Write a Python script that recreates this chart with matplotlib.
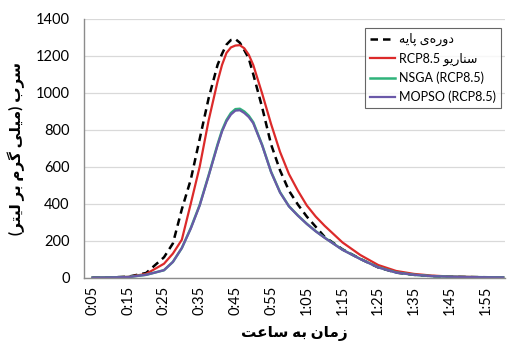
import matplotlib
matplotlib.use("Agg")
import matplotlib.pyplot as plt

# حروف فارسی: (تنها، پایانی، آغازی، میانی)
FORMS = {
    "ا": ("\uFE8D", "\uFE8E", None, None),
    "ب": ("\uFE8F", "\uFE90", "\uFE91", "\uFE92"),
    "ت": ("\uFE95", "\uFE96", "\uFE97", "\uFE98"),
    "د": ("\uFEA9", "\uFEAA", None, None),
    "ر": ("\uFEAD", "\uFEAE", None, None),
    "ز": ("\uFEAF", "\uFEB0", None, None),
    "س": ("\uFEB1", "\uFEB2", "\uFEB3", "\uFEB4"),
    "ع": ("\uFEC9", "\uFECA", "\uFECB", "\uFECC"),
    "ل": ("\uFEDD", "\uFEDE", "\uFEDF", "\uFEE0"),
    "م": ("\uFEE1", "\uFEE2", "\uFEE3", "\uFEE4"),
    "ن": ("\uFEE5", "\uFEE6", "\uFEE7", "\uFEE8"),
    "ه": ("\uFEE9", "\uFEEA", "\uFEEB", "\uFEEC"),
    "و": ("\uFEED", "\uFEEE", None, None),
    "پ": ("\uFB56", "\uFB57", "\uFB58", "\uFB59"),
    "گ": ("\uFB92", "\uFB93", "\uFB94", "\uFB95"),
    "ی": ("\uFBFC", "\uFBFD", "\uFBFE", "\uFBFF"),
}
MIRROR = {"(": ")", ")": "("}


def fa(text):
    # شکل دادن حروف و برگرداندن ترتیب برای نمایش راست به چپ
    out = []
    for i, c in enumerate(text):
        if c not in FORMS:
            if c != "\u200c":
                out.append(MIRROR.get(c, c))
            continue
        prev = text[i - 1] if i > 0 else ""
        nxt = text[i + 1] if i + 1 < len(text) else ""
        joins_prev = prev in FORMS and FORMS[prev][2] is not None
        joins_next = FORMS[c][2] is not None and nxt in FORMS
        iso, fin, ini, med = FORMS[c]
        if joins_prev and joins_next:
            out.append(med)
        elif joins_prev:
            out.append(fin)
        elif joins_next:
            out.append(ini)
        else:
            out.append(iso)
    return "".join(out[::-1])


# داده‌ها (دقیقه)
minutes = [5, 10, 15, 20, 25, 27.5, 30, 32.5, 35, 37.5, 40, 41.25, 42.5, 43.75, 45,
           46.25, 47.5, 48.75, 50, 52.5, 55, 57.5, 60, 62.5, 65, 67.5, 70, 75, 80,
           85, 90, 95, 100, 105, 110, 115, 120]
baseline = [0, 1, 5, 25, 110, 185, 370, 530, 750, 970, 1150, 1210, 1260, 1285, 1290,
            1270, 1230, 1185, 1100, 920, 720, 580, 470, 395, 330, 275, 220, 153, 101,
            55, 27, 15, 8, 5, 3, 2, 1]
rcp85 = [0, 1, 4, 20, 75, 130, 205, 400, 600, 850, 1060, 1150, 1215, 1245, 1255,
         1257, 1240, 1205, 1150, 995, 830, 680, 560, 470, 390, 330, 280, 190, 122,
         68, 36, 20, 11, 6, 4, 2, 1]
nsga = [0, 1, 3, 15, 40, 85, 160, 268, 393, 553, 720, 796, 852, 890, 911,
        913, 898, 875, 840, 717, 572, 462, 386, 336, 291, 251, 216, 151, 101,
        56, 28, 15, 8, 5, 3, 2, 1]
mopso = [0, 1, 3, 15, 40, 85, 160, 265, 390, 550, 715, 790, 845, 882, 903,
         905, 890, 868, 835, 715, 570, 460, 385, 335, 290, 250, 215, 150, 100,
         55, 27, 15, 8, 5, 3, 2, 1]

tick_minutes = list(range(5, 120, 10))
tick_labels = [f"{m // 60}:{m % 60:02d}" for m in tick_minutes]

plt.rcParams["font.family"] = ["Lato", "DejaVu Sans"]

fig = plt.figure(figsize=(5.07, 3.47), dpi=100)
ax = fig.add_axes([0.165, 0.200, 0.831, 0.746])

ax.plot(minutes, baseline, color="black", lw=1.8, dashes=(3, 2), label=fa("دوره‌ی پایه"))
ax.plot(minutes, rcp85, color="#dc2a2a", lw=1.6, label="RCP8.5 " + fa("سناریو"))
ax.plot(minutes, nsga, color="#2fb37a", lw=1.8, label="NSGA (RCP8.5)")
ax.plot(minutes, mopso, color="#6a58a8", lw=1.6, label="MOPSO (RCP8.5)")

ax.set_xlim(2.5, 120.5)
ax.set_ylim(0, 1400)
ax.set_yticks(range(0, 1401, 200))
ax.set_xticks(tick_minutes)
ax.set_xticklabels(tick_labels, rotation=90)
ax.tick_params(length=0, labelsize=10.5, colors="black")
ax.tick_params(axis="x", pad=6)
ax.tick_params(axis="y", pad=10)

ax.grid(axis="y", color="#d9d9d9", lw=0.9)
ax.set_axisbelow(True)
for s in ["top", "right"]:
    ax.spines[s].set_visible(False)
for s in ["left", "bottom"]:
    ax.spines[s].set_color("#8c8c8c")
    ax.spines[s].set_linewidth(1)

ax.set_ylabel(fa("سرب (میلی گرم بر لیتر)"), fontsize=11, fontweight="bold", labelpad=8)
ax.set_xlabel(fa("زمان به ساعت"), fontsize=11, fontweight="bold", labelpad=8)

leg = ax.legend(loc="upper left", bbox_to_anchor=(0.668, 0.964), borderaxespad=0,
                fontsize=9, frameon=True, fancybox=False, handlelength=2.0,
                handletextpad=0.3, labelspacing=0.5, borderpad=0.4)
leg.get_frame().set_edgecolor("#404040")
leg.get_frame().set_linewidth(0.8)

fig.savefig("out.png", dpi=100)
